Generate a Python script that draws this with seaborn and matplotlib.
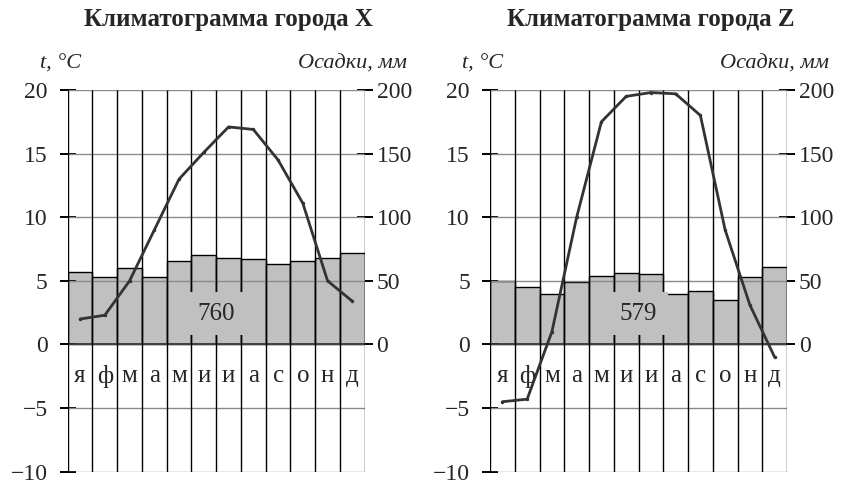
import matplotlib
matplotlib.use("Agg")
import matplotlib.pyplot as plt
import numpy as np
import pandas as pd
import seaborn as sns

# month letters and data
MONTHS = ["я", "ф", "м", "а", "м", "и", "и", "а", "с", "о", "н", "д"]
MONTH_NUM = list(range(1, 13))

TEMP_X = [2.0, 2.3, 5.0, 9.0, 13.0, 15.1, 17.1, 16.9, 14.5, 11.1, 5.0, 3.4]
PRECIP_X = [57, 53, 60, 53, 66, 70, 68, 67, 63, 66, 68, 72]
TOTAL_X = 760

TEMP_Z = [-4.5, -4.3, 1.0, 10.0, 17.5, 19.5, 19.8, 19.7, 18.0, 9.0, 3.1, -1.0]
PRECIP_Z = [50, 45, 40, 49, 54, 56, 55, 40, 42, 35, 53, 61]
TOTAL_Z = 579

TEMP_TICKS = [-10, -5, 0, 5, 10, 15, 20]
PRECIP_TICKS = [0, 50, 100, 150, 200]

BAR_GRAY = "#c0c0c0"
FS = 17


def draw_climatogram(fig, rect, title, temp, precip, total):
    df = pd.DataFrame({"month": MONTH_NUM, "temp": temp, "precip": precip})

    ax_t = fig.add_axes(rect)
    ax_p = ax_t.twinx()
    ax_t.set_zorder(ax_p.get_zorder() + 1)
    ax_t.patch.set_visible(False)

    sns.barplot(data=df, x="month", y="precip", ax=ax_p, native_scale=True,
                width=1.0, color=BAR_GRAY, edgecolor="black", linewidth=1,
                errorbar=None, saturation=1)
    ax_p.set_ylim(-100, 200)
    ax_p.set_yticks(PRECIP_TICKS)

    ax_t.set_xlim(0.5, 12.5)
    ax_t.set_ylim(-10, 20)
    ax_t.set_yticks(TEMP_TICKS)
    ax_t.hlines(TEMP_TICKS, 0.5, 12.5, color="#8a8a8a", lw=1, zorder=1)
    ax_t.hlines(0, 0.5, 12.5, color="#333333", lw=1.2, zorder=1)
    ax_t.vlines(np.arange(0.5, 13.0, 1.0), -10, 20, color="black", lw=1, zorder=1)

    sns.lineplot(data=df, x="month", y="temp", ax=ax_t, color="#333333",
                 lw=2, marker="o", markersize=2.5, markeredgewidth=0, zorder=4)

    for m, letter in zip(MONTH_NUM, MONTHS):
        ax_t.text(m, -2.5, letter, ha="center", va="center", fontsize=18, zorder=2)

    ax_t.text(6.5, 2.4, str(total), ha="center", va="center", fontsize=18, zorder=2,
              bbox=dict(boxstyle="square,pad=0.42", fc=BAR_GRAY, ec="none"))

    for a in (ax_t, ax_p):
        for s in a.spines.values():
            s.set_visible(False)
        a.set_xlabel("")
        a.set_ylabel("")
        a.tick_params(axis="x", bottom=False, labelbottom=False, top=False)
    ax_t.tick_params(axis="y", direction="inout", length=11, width=1.4,
                     labelsize=FS, pad=9, color="black")
    ax_p.tick_params(axis="y", direction="inout", length=11, width=1.4,
                     labelsize=FS, pad=3, color="black")

    ax_t.text(-0.093, 1.068, "t, °C", transform=ax_t.transAxes, ha="left",
              va="center", fontsize=16, style="italic")
    ax_t.text(1.141, 1.068, "Осадки, мм", transform=ax_t.transAxes, ha="right",
              va="center", fontsize=16, style="italic")
    ax_t.text(0.54, 1.186, title, transform=ax_t.transAxes, ha="center",
              va="center", fontsize=18, fontweight="bold")


def main():
    sns.set_theme(style="white")
    plt.rcParams["font.family"] = ["Liberation Serif", "DejaVu Serif"]
    plt.rcParams["axes.unicode_minus"] = True

    fig = plt.figure(figsize=(8.45, 4.86), dpi=100)
    fig.patch.set_facecolor("white")
    draw_climatogram(fig, [0.0801, 0.0294, 0.3515, 0.7854],
                     "Климатограмма города X", TEMP_X, PRECIP_X, TOTAL_X)
    draw_climatogram(fig, [0.5799, 0.0294, 0.3515, 0.7854],
                     "Климатограмма города Z", TEMP_Z, PRECIP_Z, TOTAL_Z)
    fig.savefig("out.png", dpi=100, facecolor="white")


if __name__ == "__main__":
    main()
